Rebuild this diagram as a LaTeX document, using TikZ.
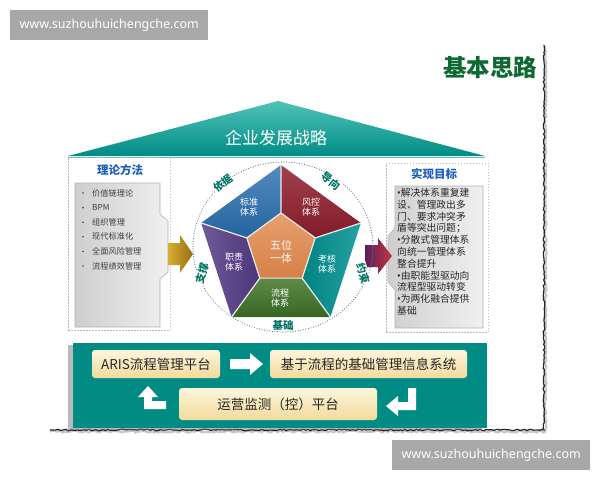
\documentclass[tikz,border=0pt]{standalone}
\usepackage{fontspec}
\setmainfont{Noto Sans CJK SC}
\newfontfamily\wmfont{Noto Sans}
\newcommand{\bt}{{\wmfont •}}
\usetikzlibrary{shapes.geometric,decorations.pathmorphing,shadows,calc}
\definecolor{teal1}{RGB}{0,140,132}
\definecolor{teal2}{RGB}{80,195,185}
\definecolor{titleblue}{RGB}{30,95,185}
\definecolor{darkgreen}{RGB}{15,105,50}
\definecolor{lblgreen}{RGB}{0,115,100}
\definecolor{segblue}{RGB}{40,110,175}
\definecolor{segred}{RGB}{145,30,45}
\definecolor{segteal}{RGB}{0,145,145}
\definecolor{seggreen}{RGB}{65,120,40}
\definecolor{segpurple}{RGB}{85,60,135}
\definecolor{segorange}{RGB}{225,135,75}
\definecolor{creamtop}{RGB}{252,246,220}
\definecolor{creambot}{RGB}{242,218,155}
\definecolor{goldA}{RGB}{215,175,50}
\definecolor{goldB}{RGB}{150,110,20}
\definecolor{redA}{RGB}{90,30,95}
\definecolor{redB}{RGB}{195,55,60}
\definecolor{wmgray}{RGB}{168,168,168}
\begin{document}
\begin{tikzpicture}[x=1pt,y=-1pt,
  wm/.style={fill=wmgray,draw=none},
  wmtext/.style={text=white,font=\wmfont\fontsize{12.5}{12.5}\selectfont},
  dashbox/.style={draw=gray!55,dash pattern=on 1.5pt off 1.5pt,line width=0.8pt},
  panel/.style={draw=gray!60,line width=0.6pt,left color=gray!38,right color=gray!12},
  ptitle/.style={text=titleblue,font=\bfseries\fontsize{11.5}{11.5}\selectfont},
  bul/.style={anchor=west,text=black!75,font=\fontsize{8.2}{8.2}\selectfont,inner sep=0pt},
  seglbl/.style={text=white,align=center,inner sep=1pt,font=\fontsize{9}{10.5}\selectfont},
  ringlbl/.style={text=lblgreen,fill=white,inner sep=0.5pt,font=\bfseries\fontsize{10.5}{10.5}\selectfont},
  sep/.style={draw=white!85!gray,line width=1.2pt,line join=round},
  cream/.style={rounded corners=3pt,top color=creamtop,bottom color=creambot,draw=none,
     font=\fontsize{13.5}{13.5}\selectfont,text=black!85},
  warrow/.style={fill=white,draw=none}]
\useasboundingbox (0,0) rectangle (600,480);

% watermarks
\node[wm,minimum width=198pt,minimum height=30pt,anchor=north west] (wm1) at (10,10) {};
\node[wmtext] (wm1t) at (wm1.center) {www.suzhouhuichengche.com};
\node[wm,minimum width=198pt,minimum height=30pt,anchor=north west] (wm2) at (392,440) {};
\node[wmtext] (wm2t) at (wm2.center) {www.suzhouhuichengche.com};

% title
\node[text=darkgreen,font=\bfseries\fontsize{23.5}{23.5}\selectfont] (title) at (490,68) {基本思路};

% jagged torn border
\draw[decorate,decoration={random steps,segment length=2pt,amplitude=1pt},gray!45,line width=2.2pt]
  (50,431.5) -- (545.5,431.5) -- (545.5,46);
\draw[decorate,decoration={random steps,segment length=2pt,amplitude=0.8pt},gray!30!black,line width=1.2pt]
  (50,430) -- (544,430) -- (544,45);

% roof
\shade[top color=teal2,bottom color=teal1] (68,156) -- (278,101) -- (485,156) -- cycle;
\draw[teal1!60,line width=0.6pt] (68,157.5) -- (485,157.5);
\node[text=white,font=\fontsize{17}{17}\selectfont] (roof) at (276,138) {企业发展战略};

% left panel
\node[dashbox,minimum width=102pt,minimum height=173pt,anchor=north west] (lbox) at (68,157) {};
\node[ptitle] (ltitle) at (120,170) {理论方法};
\draw[panel] (75,183) -- (160,183) -- (160,214) -- (168,221) -- (168,272) -- (160,279) -- (160,327) -- (75,327) -- cycle;
\foreach \t [count=\i] in {价值链理论,BPM,组织管理,现代标准化,全面风险管理,流程绩效管理}{
  \node[bul] (lb\i) at (92,{193+14.6*(\i-1)}) {\t};
  \fill[black!70] (83,{193+14.6*(\i-1)}) circle (0.9pt);
}

% right panel
\node[dashbox,minimum width=102pt,minimum height=169pt,anchor=north west] (rbox) at (386,163) {};
\node[ptitle] (rtitle) at (434,174) {实现目标};
\draw[panel] (483,186) -- (395,186) -- (395,228) -- (388,236) -- (388,282) -- (395,290) -- (395,328) -- (483,328) -- cycle;
\node[anchor=north west,inner sep=0pt,align=left,text=black!85,font=\fontsize{9.8}{11.8}\selectfont] (rtext) at (397,188)
{\bt 解决体系重复建\\设、管理政出多\\门、要求冲突矛\\盾等突出问题；\\\bt 分散式管理体系\\向统一管理体系\\整合提升\\\bt 由职能型驱动向\\流程型驱动转变\\\bt 为两化融合提供\\基础};

% side arrows
\shade[left color=goldA,right color=goldB] (168,243) -- (180,243) -- (180,235) -- (193,254) -- (180,273) -- (180,265) -- (168,265) -- cycle;
\shade[left color=redA,right color=redB] (365,245) -- (378,245) -- (378,238) -- (392,256) -- (378,274) -- (378,267) -- (365,267) -- cycle;

% dotted circle
\draw[gray!70!teal,line width=1.2pt,dash pattern=on 0pt off 2.6pt,line cap=round] (283,247) ellipse (90 and 85);

% pentagon
\coordinate (A) at (281,165);
\coordinate (B) at (360.9,223);
\coordinate (C) at (330.4,317);
\coordinate (D) at (231.6,317);
\coordinate (E) at (201.1,223);
\coordinate (a) at (281,213);
\coordinate (b) at (315.2,237.9);
\coordinate (c) at (302.2,278.1);
\coordinate (d) at (259.8,278.1);
\coordinate (e) at (246.8,237.9);
\shade[top color=segblue!80!white,bottom color=segblue!90!black] (A) -- (E) -- (e) -- (a) -- cycle;
\shade[top color=segred!85!white,bottom color=segred!90!black] (A) -- (B) -- (b) -- (a) -- cycle;
\shade[left color=segteal!90!black,right color=segteal!85!white] (B) -- (C) -- (c) -- (b) -- cycle;
\shade[top color=seggreen!85!white,bottom color=seggreen!85!black] (C) -- (D) -- (d) -- (c) -- cycle;
\shade[left color=segpurple!85!white,right color=segpurple!90!black] (D) -- (E) -- (e) -- (d) -- cycle;
\shade[top color=segorange!80!white,bottom color=segorange!95!black] (a) -- (b) -- (c) -- (d) -- (e) -- cycle;
\draw[sep] (a) -- (b) -- (c) -- (d) -- (e) -- cycle;
\draw[sep] (A) -- (a) (B) -- (b) (C) -- (c) (D) -- (d) (E) -- (e);

\node[seglbl] (s1) at (249,207) {标准\\体系};
\node[seglbl] (s2) at (311,207) {风控\\体系};
\node[seglbl] (s3) at (327,264) {考核\\体系};
\node[seglbl] (s4) at (280,298) {流程\\体系};
\node[seglbl] (s5) at (234,262) {职责\\体系};
\node[seglbl,text=white!95!orange,font=\fontsize{11}{13}\selectfont] (s0) at (281,252) {五位\\一体};

\node[ringlbl,rotate=38] (r1) at (223,183) {依据};
\node[ringlbl,rotate=-38] (r2) at (331,181) {导向};
\node[ringlbl,rotate=-74] (r3) at (363,273) {约束};
\node[ringlbl] (r4) at (283,326) {基础};
\node[ringlbl,rotate=74] (r5) at (202,273) {支撑};

% bottom panel
\node[fill=teal1,minimum width=414pt,minimum height=85pt,anchor=north west,
  drop shadow={shadow xshift=-5pt,shadow yshift=-2pt,opacity=.45,fill=black!60}] (bp) at (73,343) {};
\node[cream,minimum width=128pt,minimum height=28pt] (aris) at (156,364) {ARIS流程管理平台};
\node[cream,minimum width=197pt,minimum height=28pt] (info) at (368.5,364) {基于流程的基础管理信息系统};
\node[cream,minimum width=198pt,minimum height=32pt] (mon) at (278,404) {运营监测（控）平台};
\fill[warrow] (230,359) -- (250,359) -- (250,353) -- (263,364) -- (250,375) -- (250,369) -- (230,369) -- cycle;
\fill[warrow] (166,401) -- (152,401) -- (152,397) -- (158,397) -- (148,386) -- (138,397) -- (144,397) -- (144,409) -- (166,409) -- cycle;
\fill[warrow] (408,388) -- (416,388) -- (416,410) -- (398,410) -- (398,416) -- (386,406) -- (398,396) -- (398,402) -- (408,402) -- cycle;
\end{tikzpicture}
\end{document}
